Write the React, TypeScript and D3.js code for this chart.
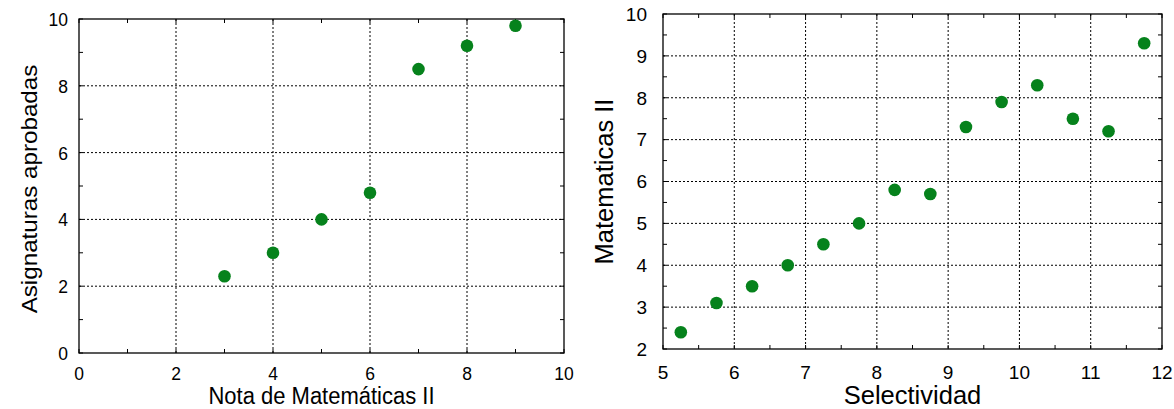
import React, { useEffect, useRef } from "react";
import * as d3 from "d3";

// left panel data
const notaMates = [3, 4, 5, 6, 7, 8, 9];
const asignaturas = [2.3, 3.0, 4.0, 4.8, 8.5, 9.2, 9.8];

// right panel data
const selectividad = [5.25, 5.75, 6.25, 6.75, 7.25, 7.75, 8.25, 8.75, 9.25, 9.75, 10.25, 10.75, 11.25, 11.75];
const matematicas = [2.4, 3.1, 3.5, 4.0, 4.5, 5.0, 5.8, 5.7, 7.3, 7.9, 8.3, 7.5, 7.2, 9.3];

const leftXTicks = [0, 2, 4, 6, 8, 10];
const leftYTicks = [0, 2, 4, 6, 8, 10];
const rightXTicks = [5, 6, 7, 8, 9, 10, 11, 12];
const rightYTicks = [2, 3, 4, 5, 6, 7, 8, 9, 10];

const POINT_COLOR = "#06821c";
const FONT = "'Liberation Sans', Arial, sans-serif";

type Panel = {
  box: { left: number; right: number; top: number; bottom: number };
  xDomain: [number, number];
  yDomain: [number, number];
  xTicks: number[];
  yTicks: number[];
  xMinorStep: number;
  yMinorStep: number;
  xs: number[];
  ys: number[];
  xTitle: string;
  yTitle: string;
  tickFont: number;
  titleFont: number;
  stretchY: number; // the two source images were scaled a bit differently
  xTickBase: number;
  xTitleBase: number;
  yTickRight: number;
  yTitleBase: number;
  yTitleShift: number;
};

function drawPanel(svg: d3.Selection<SVGSVGElement, unknown, null, undefined>, p: Panel) {
  const x = d3.scaleLinear().domain(p.xDomain).range([p.box.left, p.box.right]);
  const y = d3.scaleLinear().domain(p.yDomain).range([p.box.bottom, p.box.top]);
  const g = svg.append("g");
  const sy = p.stretchY;

  // dotted grid
  g.selectAll(".gx")
    .data(p.xTicks.slice(1, -1))
    .join("line")
    .attr("x1", (d) => x(d))
    .attr("x2", (d) => x(d))
    .attr("y1", p.box.top)
    .attr("y2", p.box.bottom)
    .attr("stroke", "#000")
    .attr("stroke-width", 1)
    .attr("stroke-dasharray", "2,2");
  g.selectAll(".gy")
    .data(p.yTicks.slice(1, -1))
    .join("line")
    .attr("y1", (d) => y(d))
    .attr("y2", (d) => y(d))
    .attr("x1", p.box.left)
    .attr("x2", p.box.right)
    .attr("stroke", "#000")
    .attr("stroke-width", 1)
    .attr("stroke-dasharray", "2,2");

  // minor ticks, inward on all four sides
  const xMinor = d3.range(p.xDomain[0], p.xDomain[1] + 1e-9, p.xMinorStep);
  const yMinor = d3.range(p.yDomain[0], p.yDomain[1] + 1e-9, p.yMinorStep);
  const tickLen = 4;
  xMinor.forEach((v) => {
    g.append("line").attr("x1", x(v)).attr("x2", x(v)).attr("y1", p.box.bottom).attr("y2", p.box.bottom - tickLen).attr("stroke", "#000");
    g.append("line").attr("x1", x(v)).attr("x2", x(v)).attr("y1", p.box.top).attr("y2", p.box.top + tickLen).attr("stroke", "#000");
  });
  yMinor.forEach((v) => {
    g.append("line").attr("y1", y(v)).attr("y2", y(v)).attr("x1", p.box.left).attr("x2", p.box.left + tickLen).attr("stroke", "#000");
    g.append("line").attr("y1", y(v)).attr("y2", y(v)).attr("x1", p.box.right).attr("x2", p.box.right - tickLen).attr("stroke", "#000");
  });

  // border
  g.append("rect")
    .attr("x", p.box.left)
    .attr("y", p.box.top)
    .attr("width", p.box.right - p.box.left)
    .attr("height", p.box.bottom - p.box.top)
    .attr("fill", "none")
    .attr("stroke", "#000")
    .attr("stroke-width", 1.3);

  // tick labels
  g.selectAll(".xl")
    .data(p.xTicks)
    .join("text")
    .attr("transform", (d) => `translate(${x(d)},${p.xTickBase}) scale(1,${sy})`)
    .attr("text-anchor", "middle")
    .style("font-family", FONT)
    .style("font-size", `${p.tickFont}px`)
    .text((d) => d);
  g.selectAll(".yl")
    .data(p.yTicks)
    .join("text")
    .attr("transform", (d) => `translate(${p.yTickRight},${y(d)}) scale(1,${sy})`)
    .attr("dy", "0.36em")
    .attr("text-anchor", "end")
    .style("font-family", FONT)
    .style("font-size", `${p.tickFont}px`)
    .text((d) => d);

  // axis titles
  g.append("text")
    .attr("transform", `translate(${(p.box.left + p.box.right) / 2},${p.xTitleBase}) scale(1,${sy})`)
    .attr("text-anchor", "middle")
    .style("font-family", FONT)
    .style("font-size", `${p.titleFont}px`)
    .text(p.xTitle);
  g.append("text")
    .attr(
      "transform",
      `translate(${p.yTitleBase},${(p.box.top + p.box.bottom) / 2 + p.yTitleShift}) scale(1,${sy}) rotate(-90)`
    )
    .attr("text-anchor", "middle")
    .style("font-family", FONT)
    .style("font-size", `${p.titleFont}px`)
    .text(p.yTitle);

  // points
  g.selectAll(".pt")
    .data(p.xs.map((v, i) => [v, p.ys[i]]))
    .join("circle")
    .attr("cx", (d) => x(d[0]))
    .attr("cy", (d) => y(d[1]))
    .attr("r", 6.3)
    .attr("fill", POINT_COLOR);
}

export default function App() {
  const ref = useRef<SVGSVGElement>(null);

  useEffect(() => {
    const svg = d3.select(ref.current!);
    svg.selectAll("*").remove();

    drawPanel(svg, {
      box: { left: 79, right: 564, top: 19, bottom: 353 },
      xDomain: [0, 10],
      yDomain: [0, 10],
      xTicks: leftXTicks,
      yTicks: leftYTicks,
      xMinorStep: 1,
      yMinorStep: 1,
      xs: notaMates,
      ys: asignaturas,
      xTitle: "Nota de Matemáticas II",
      yTitle: "Asignaturas aprobadas",
      tickFont: 17.5,
      titleFont: 22,
      stretchY: 1.1,
      xTickBase: 380,
      xTitleBase: 404,
      yTickRight: 68,
      yTitleBase: 37,
      yTitleShift: 3,
    });

    drawPanel(svg, {
      box: { left: 663, right: 1162, top: 14, bottom: 349 },
      xDomain: [5, 12],
      yDomain: [2, 10],
      xTicks: rightXTicks,
      yTicks: rightYTicks,
      xMinorStep: 0.5,
      yMinorStep: 0.5,
      xs: selectividad,
      ys: matematicas,
      xTitle: "Selectividad",
      yTitle: "Matematicas II",
      tickFont: 19,
      titleFont: 25.5,
      stretchY: 1,
      xTickBase: 379,
      xTitleBase: 404,
      yTickRight: 647,
      yTitleBase: 613,
      yTitleShift: 0,
    });
  }, []);

  return (
    <div style={{ position: "absolute", left: 0, top: 0 }}>
      <svg ref={ref} width={1174} height={409} style={{ display: "block", background: "#fff" }} />
    </div>
  );
}
